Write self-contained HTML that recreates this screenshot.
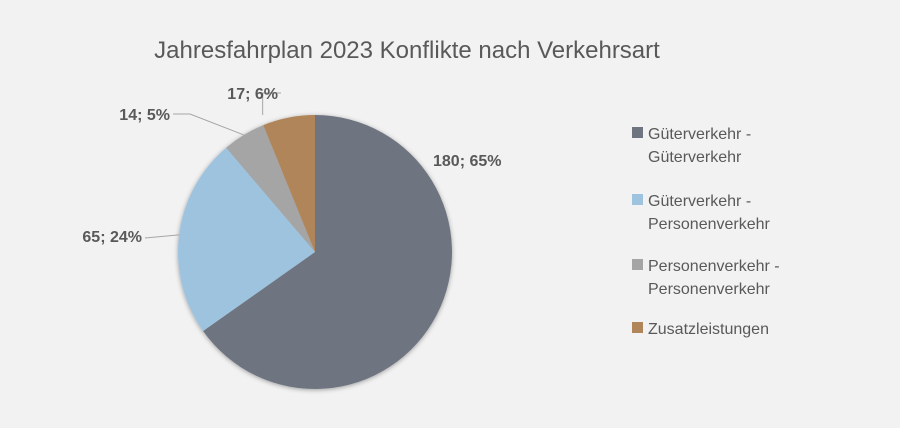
<!DOCTYPE html>
<html><head><meta charset="utf-8"><style>
body{margin:0;background:#f2f2f2;}
svg{display:block;font-family:"Liberation Sans",sans-serif;}
</style></head><body>
<svg id="chart" width="900" height="428" viewBox="0 0 900 428">
<defs><filter id="sh" x="-20%" y="-20%" width="140%" height="140%"><feDropShadow dx="0" dy="1" stdDeviation="2.5" flood-color="#000" flood-opacity="0.35"/></filter></defs>
<rect width="900" height="428" fill="#f2f2f2"/>
<text x="407" y="58" text-anchor="middle" font-size="24" fill="#595959">Jahresfahrplan 2023 Konflikte nach Verkehrsart</text>
<g id="slices" filter="url(#sh)"></g>
<g id="labels"></g>
<g id="legend"></g>
</svg>
<script>
const categories=["Güterverkehr - Güterverkehr","Güterverkehr - Personenverkehr","Personenverkehr - Personenverkehr","Zusatzleistungen"];
const values=[180,65,14,17];
const percentLabels=["65%","24%","5%","6%"];
const legendLines=[["Güterverkehr -","Güterverkehr"],["Güterverkehr -","Personenverkehr"],["Personenverkehr -","Personenverkehr"],["Zusatzleistungen"]];
const colors=["#6e7580","#9dc3df","#a5a5a5","#b0855a"];
const NS="http://www.w3.org/2000/svg";
const cx=315,cy=252,r=137;
const total=values.reduce((a,b)=>a+b,0);
function pt(a,rr){return [cx+rr*Math.sin(a),cy-rr*Math.cos(a)];}
const sl=document.getElementById('slices'),lb=document.getElementById('labels'),lg=document.getElementById('legend');
let a0=0;
const labelPos=[[433,166,"start"],[142,242,"end"],[170,120,"end"],[278,99,"end"]];
values.forEach((v,i)=>{
 const a1=a0+v/total*2*Math.PI;
 const p0=pt(a0,r),p1=pt(a1,r);
 const large=(a1-a0)>Math.PI?1:0;
 const p=document.createElementNS(NS,'path');
 p.setAttribute('d',`M${cx},${cy} L${p0[0]},${p0[1]} A${r},${r} 0 ${large} 1 ${p1[0]},${p1[1]} Z`);
 p.setAttribute('fill',colors[i]);
 
 
 sl.appendChild(p);
 const mid=(a0+a1)/2;
 const lp=labelPos[i];
 if(i>0){
  const e=pt(mid,r);
  const ln=document.createElementNS(NS,'polyline');
  let pts;
  if(i===1) pts=`${lp[0]+3},${lp[1]-4} ${e[0]},${e[1]}`;
  else if(i===2) pts=`${lp[0]+3},${lp[1]-6} ${lp[0]+20},${lp[1]-6} ${e[0]},${e[1]}`;
  else pts=`${lp[0]+3},${lp[1]-6} ${e[0]-26},${lp[1]-6} ${e[0]-26},${cy-r}`;
  ln.setAttribute('points',pts);
  ln.setAttribute('fill','none');ln.setAttribute('stroke','#a6a6a6');ln.setAttribute('stroke-width','1');
  
  
  lb.appendChild(ln);
 }
 const t=document.createElementNS(NS,'text');
 t.setAttribute('x',lp[0]);t.setAttribute('y',lp[1]);t.setAttribute('text-anchor',lp[2]);
 t.setAttribute('font-size','16');t.setAttribute('font-weight','bold');t.setAttribute('fill','#595959');
 t.textContent=values[i]+"; "+percentLabels[i];
 
 
 lb.appendChild(t);
 a0=a1;
});
const rowY=[133,200,265,328];
legendLines.forEach((lines,i)=>{
 const g=document.createElementNS(NS,'g');
 
 
 const s=document.createElementNS(NS,'rect');
 s.setAttribute('x',632);s.setAttribute('y',rowY[i]-6);s.setAttribute('width',11);s.setAttribute('height',11);s.setAttribute('fill',colors[i]);
 
 
 g.appendChild(s);
 lines.forEach((ln,j)=>{
  const t=document.createElementNS(NS,'text');
  t.setAttribute('x',648);t.setAttribute('y',rowY[i]+6+j*23);t.setAttribute('font-size','16');t.setAttribute('fill','#595959');
  t.textContent=ln;
  
  
  g.appendChild(t);
 });
 lg.appendChild(g);
});
</script>
</body></html>
